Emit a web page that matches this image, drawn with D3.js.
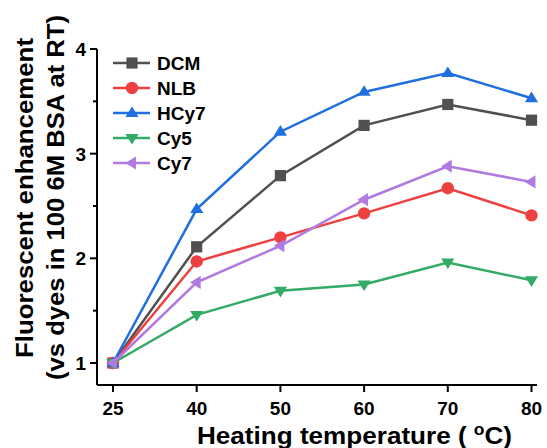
<!DOCTYPE html>
<html><head><meta charset="utf-8">
<script src="https://cdn.jsdelivr.net/npm/d3@7"></script>
<style>body{margin:0;background:#fff}svg{display:block;font-family:"Liberation Sans",Arial,sans-serif;font-weight:bold}</style>
</head><body><svg id="c" width="547" height="448"></svg>
<script>
const temps = ["25","40","50","60","70","80"];
const seriesNames = ["DCM","NLB","HCy7","Cy5","Cy7"];
const dcm  = [1.00, 2.11, 2.79, 3.27, 3.47, 3.32];
const nlb  = [1.00, 1.97, 2.20, 2.43, 2.67, 2.41];
const hcy7 = [1.00, 2.47, 3.21, 3.59, 3.77, 3.53];
const cy5  = [1.00, 1.46, 1.69, 1.75, 1.96, 1.79];
const cy7  = [1.00, 1.77, 2.12, 2.56, 2.88, 2.73];
const yTicks = [1, 2, 3, 4];
const yMinor = [1.5, 2.5, 3.5];
const colors = ["#505050", "#ee4040", "#1f6fe0", "#33aa66", "#b07ae0"];
const shapes = ["square", "circle", "up", "down", "left"];
const values = [dcm, nlb, hcy7, cy5, cy7];

const svg = d3.select("#c");
const x = d3.scalePoint().domain(temps).range([113, 531.5]);
const y = d3.scaleLinear().domain([1, 4]).range([363, 49]);
const yBottom = 385, xLeft = 97, xRight = 537;

// axes lines
svg.append("line").attr("x1", xLeft).attr("x2", xLeft).attr("y1", y(4)).attr("y2", yBottom).attr("stroke","#000").attr("stroke-width",2);
svg.append("line").attr("x1", xLeft).attr("x2", xRight).attr("y1", yBottom).attr("y2", yBottom).attr("stroke","#000").attr("stroke-width",2);
yTicks.forEach(t => {
  svg.append("line").attr("x1", xLeft-7).attr("x2", xLeft).attr("y1", y(t)).attr("y2", y(t)).attr("stroke","#000").attr("stroke-width",2);
  svg.append("text").attr("x", xLeft-11).attr("y", y(t)).attr("dy","0.36em").attr("text-anchor","end").attr("font-size",19).text(t);
});
yMinor.forEach(t => {
  svg.append("line").attr("x1", xLeft-4).attr("x2", xLeft).attr("y1", y(t)).attr("y2", y(t)).attr("stroke","#000").attr("stroke-width",2);
});
temps.forEach(t => {
  svg.append("line").attr("x1", x(t)).attr("x2", x(t)).attr("y1", yBottom).attr("y2", yBottom+7).attr("stroke","#000").attr("stroke-width",2);
  svg.append("text").attr("x", x(t)).attr("y", 415).attr("text-anchor","middle").attr("font-size",19).text(t);
});

// axis titles
const xt = svg.append("text").attr("x", 197).attr("y", 444).attr("font-size",24)
  .attr("textLength", 315).attr("lengthAdjust","spacingAndGlyphs");
xt.append("tspan").text("Heating temperature ( ");
xt.append("tspan").attr("dy",-9).attr("font-size",16).text("o");
xt.append("tspan").attr("dy",9).text("C)");
svg.append("text").attr("transform","translate(33,358) rotate(-90)").attr("font-size",24)
  .attr("textLength", 320).attr("lengthAdjust","spacingAndGlyphs").text("Fluorescent enhancement");
svg.append("text").attr("transform","translate(64,380) rotate(-90)").attr("font-size",24)
  .attr("textLength", 365).attr("lengthAdjust","spacingAndGlyphs").text("(vs dyes in 100 6M BSA at RT)");

function marker(g, shape, cx, cy, color) {
  const s = 5.6;
  if (shape === "square") g.append("rect").attr("x", cx-s).attr("y", cy-s).attr("width", 2*s).attr("height", 2*s).attr("fill", color);
  else if (shape === "circle") g.append("circle").attr("cx", cx).attr("cy", cy).attr("r", 6.2).attr("fill", color);
  else {
    let pts;
    const a = 6.6;
    if (shape === "up") pts = [[cx, cy-a], [cx+a, cy+a*0.6], [cx-a, cy+a*0.6]];
    else if (shape === "down") pts = [[cx, cy+a], [cx+a, cy-a*0.6], [cx-a, cy-a*0.6]];
    else pts = [[cx-a, cy], [cx+a*0.6, cy-a], [cx+a*0.6, cy+a]];
    g.append("polygon").attr("points", pts.map(p => p.join(",")).join(" ")).attr("fill", color);
  }
}

const line = d3.line().x((d,i) => x(temps[i])).y(d => y(d));
values.forEach((vals, k) => {
  const g = svg.append("g");
  g.append("path").attr("d", line(vals)).attr("fill","none").attr("stroke", colors[k]).attr("stroke-width", 2.5);
  vals.forEach((v, i) => marker(g, shapes[k], x(temps[i]), y(v), colors[k]));
});

// legend
seriesNames.forEach((n, k) => {
  const ly = 63 + k*25;
  const g = svg.append("g");
  g.append("line").attr("x1",113).attr("x2",150).attr("y1",ly).attr("y2",ly).attr("stroke",colors[k]).attr("stroke-width",2.5);
  marker(g, shapes[k], 132, ly, colors[k]);
  g.append("text").attr("x",157).attr("y",ly).attr("dy","0.36em").attr("font-size",19).text(n);
});
</script></body></html>
